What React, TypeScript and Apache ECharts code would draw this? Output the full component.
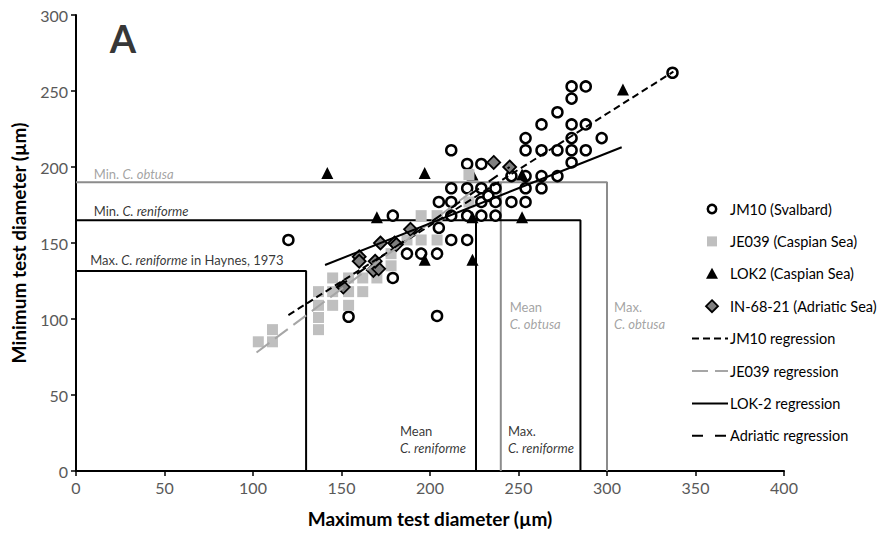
import React, { useEffect, useRef } from "react";
import * as echarts from "echarts";

// ---- data (µm) ----
const jm10: number[][] = [
  [120, 152], [154, 101.5], [179, 168], [179, 127], [187, 143], [195, 143], [204, 143], [204, 102],
  [205, 177], [205, 160], [212, 211], [212, 186], [212, 177], [212, 168], [212, 152],
  [221, 202], [221, 186], [221, 168], [221, 152], [229, 202], [229, 186], [229, 177], [229, 168],
  [233, 181], [237, 186], [237, 177], [237, 168], [246, 194], [246, 177],
  [254, 219], [254, 211], [254, 194], [254, 186], [254, 177],
  [263, 228], [263, 211], [263, 194], [263, 186], [272, 236], [272, 211], [272, 194],
  [280, 253], [280, 245], [280, 228], [280, 219], [280, 211], [280, 203],
  [288, 253], [288, 228], [288, 211], [297, 219], [337, 262],
];
const je039: number[][] = [
  [103, 85], [111, 85], [111, 93], [137, 118], [137, 109], [137, 101], [137, 93],
  [145, 127], [145, 118], [145, 109], [154, 127], [154, 118], [154, 109], [162, 127], [162, 118],
  [170, 135], [170, 127], [178, 143], [178, 135], [187, 152], [195, 152], [204, 152],
  [195, 168], [204, 168], [222, 177], [222, 195],
];
const lok2: number[][] = [
  [142, 196], [197, 196], [224, 195], [252, 195], [170, 167], [224, 167], [252, 167],
  [197, 139], [224, 139], [309, 251],
];
const in6821: number[][] = [
  [151, 121], [160, 141], [160, 138], [168, 132], [171, 133], [169, 138], [172, 150],
  [180, 150], [181, 149], [189, 159], [236, 203], [245, 200],
];

const jm10Reg: number[][] = [[120, 102.6], [337.5, 262.7]];
const je039Reg: number[][] = [[102, 78], [225, 185]];
const lok2Reg: number[][] = [[140.7, 135.5], [308.3, 213]];
const adriaticReg: number[][] = [[148, 121], [245, 200]];

// reference limits
const obtusaLimit: number[][] = [[0, 190], [300, 190], [300, 0]];
const obtusaMean: number[][] = [[240, 190], [240, 0]];
const reniformeLimit: number[][] = [[0, 165], [285, 165], [285, 0]];
const reniformeMean: number[][] = [[226, 165], [226, 0]];
const haynesLimit: number[][] = [[0, 131.5], [130, 131.5], [130, 0]];

const xTicks = [0, 50, 100, 150, 200, 250, 300, 350, 400];
const yTicks = [0, 50, 100, 150, 200, 250, 300];

const legendNames = [
  "JM10 (Svalbard)", "JE039 (Caspian Sea)", "LOK2 (Caspian Sea)", "IN-68-21 (Adriatic Sea)",
  "JM10 regression", "JE039 regression", "LOK-2 regression", "Adriatic regression",
];

const FONT = "Lato";
const GRAY = "#8c8c8c";
const SQUARE_GRAY = "#bfbfbf";
const REG_GRAY = "#a6a6a6";
const DASH_JM10 = [7, 4];
const DASH_JE039 = [16, 7];
const DASH_ADR = [11, 12];

type Note = { pos: number[]; text: string; gray?: boolean; big?: boolean };
const notes: Note[] = [
  { pos: [10, 195.5], text: "Min. {ig|C. obtusa}", gray: true },
  { pos: [10, 171], text: "Min. {ib|C. reniforme}" },
  { pos: [8, 138.8], text: "Max. {ib|C. reniforme} in Haynes, 1973" },
  { pos: [183, 20.4], text: "Mean\n{ib|C. reniforme}" },
  { pos: [244, 20.4], text: "Max.\n{ib|C. reniforme}" },
  { pos: [245, 102], text: "Mean\n{ig|C. obtusa}", gray: true },
  { pos: [304, 102], text: "Max.\n{ig|C. obtusa}", gray: true },
  { pos: [19, 285], text: "A", big: true },
];

function buildLegend() {
  const left = 692, markX = 712, textX = 730, top = 209, step = 32.4;
  const els: any[] = [];
  legendNames.forEach((name, i) => {
    const y = top + i * step;
    if (i === 0) {
      els.push({ type: "circle", shape: { cx: markX, cy: y, r: 4.2 }, style: { fill: "#fff", stroke: "#000", lineWidth: 2.5 } });
    } else if (i === 1) {
      els.push({ type: "rect", shape: { x: markX - 5, y: y - 5, width: 10, height: 10 }, style: { fill: SQUARE_GRAY } });
    } else if (i === 2) {
      els.push({ type: "polygon", shape: { points: [[markX, y - 6], [markX + 6, y + 5], [markX - 6, y + 5]] }, style: { fill: "#000" } });
    } else if (i === 3) {
      els.push({ type: "polygon", shape: { points: [[markX, y - 6], [markX + 6, y], [markX, y + 6], [markX - 6, y]] }, style: { fill: "#7f7f7f", stroke: "#000", lineWidth: 1.8 } });
    } else {
      const cfg = [
        { stroke: "#000", dash: DASH_JM10 },
        { stroke: REG_GRAY, dash: DASH_JE039 },
        { stroke: "#000", dash: null },
        { stroke: "#000", dash: DASH_ADR },
      ][i - 4];
      els.push({
        type: "line", shape: { x1: left, y1: y, x2: textX - 2, y2: y },
        style: { stroke: cfg.stroke, lineWidth: 2, lineDash: cfg.dash || undefined },
      });
    }
    els.push({
      type: "text", x: textX, y,
      style: { text: name, fill: "#000", fontFamily: FONT, fontSize: 14.5, verticalAlign: "middle", align: "left" },
    });
  });
  return els;
}

export default function App() {
  const ref = useRef<HTMLDivElement>(null);
  useEffect(() => {
    if (!ref.current) return;
    const chart = echarts.init(ref.current, undefined, { renderer: "svg" });
    const limitLine = (name: string, data: number[][], color: string) => ({
      name, type: "line", data, symbol: "none", silent: true, z: 1,
      lineStyle: { color, width: 2 },
    });
    const regLine = (name: string, data: number[][], color: string, dash: number[] | string) => ({
      name, type: "line", data, symbol: "none", silent: true, z: 5,
      lineStyle: { color, width: 2, type: dash },
    });
    const axisCommon = {
      type: "value",
      nameLocation: "middle",
      nameTextStyle: { fontFamily: FONT, fontSize: 19, fontWeight: "bold", color: "#000" },
      axisLine: { lineStyle: { color: "#000", width: 2 } },
      axisTick: { show: true, length: 5, lineStyle: { color: "#000", width: 1.5 } },
      splitLine: { show: false },
    };
    chart.setOption({
      animation: false,
      backgroundColor: "#fff",
      grid: { left: 76, right: 97, top: 15, bottom: 63 },
      xAxis: {
        ...axisCommon, min: 0, max: 400, interval: 50,
        name: "Maximum test diameter (µm)", nameGap: 38,
        axisLabel: { fontFamily: FONT, fontSize: 16, color: "#595959", margin: 8,
          formatter: (v: number) => (xTicks.includes(v) ? String(v) : "") },
      },
      yAxis: {
        ...axisCommon, min: 0, max: 300, interval: 50,
        name: "Minimum test diameter (µm)", nameGap: 48,
        axisLabel: { fontFamily: FONT, fontSize: 16, color: "#595959", margin: 8,
          formatter: (v: number) => (yTicks.includes(v) ? String(v) : "") },
      },
      graphic: buildLegend(),
      series: [
        limitLine("obtusaLimit", obtusaLimit, GRAY),
        limitLine("obtusaMean", obtusaMean, GRAY),
        limitLine("reniformeLimit", reniformeLimit, "#000"),
        limitLine("reniformeMean", reniformeMean, "#000"),
        limitLine("haynesLimit", haynesLimit, "#000"),
        {
          name: legendNames[0], type: "scatter", data: jm10, symbol: "circle", symbolSize: 10, z: 3,
          itemStyle: { color: "#fff", borderColor: "#000", borderWidth: 2.5, opacity: 1 },
        },
        {
          name: legendNames[2], type: "scatter", data: lok2, symbol: "triangle", symbolSize: 12, z: 3,
          itemStyle: { color: "#000", opacity: 1 },
        },
        {
          name: legendNames[1], type: "scatter", data: je039, symbol: "rect", symbolSize: 11, z: 3,
          itemStyle: { color: SQUARE_GRAY, opacity: 1 },
        },
        {
          name: legendNames[3], type: "scatter", data: in6821, symbol: "diamond", symbolSize: 13, z: 4,
          itemStyle: { color: "#7f7f7f", borderColor: "#000", borderWidth: 1.8, opacity: 1 },
        },
        regLine(legendNames[4], jm10Reg, "#000", DASH_JM10),
        regLine(legendNames[5], je039Reg, REG_GRAY, DASH_JE039),
        regLine(legendNames[6], lok2Reg, "#000", "solid"),
        regLine(legendNames[7], adriaticReg, "#000", DASH_ADR),
        {
          name: "notes", type: "scatter", symbolSize: 1, silent: true, z: 6,
          itemStyle: { color: "transparent" },
          data: notes.map((n) => ({
            value: n.pos,
            label: {
              show: true, position: "inside", align: "left", verticalAlign: "middle",
              formatter: n.text,
              fontFamily: FONT,
              fontSize: n.big ? 38 : 13,
              fontWeight: n.big ? "bold" : "normal",
              color: n.big ? "#000" : n.gray ? GRAY : "#000",
              lineHeight: n.big ? 40 : 17,
              rich: {
                ig: { fontStyle: "italic", fontFamily: FONT, fontSize: 13, color: GRAY, lineHeight: 17 },
                ib: { fontStyle: "italic", fontFamily: FONT, fontSize: 13, color: "#000", lineHeight: 17 },
              },
            },
          })),
        },
      ],
    });
    return () => chart.dispose();
  }, []);
  return (
    <div
      ref={ref}
      style={{ position: "fixed", left: 0, top: 0, width: 881, height: 534, background: "#fff" }}
    />
  );
}
